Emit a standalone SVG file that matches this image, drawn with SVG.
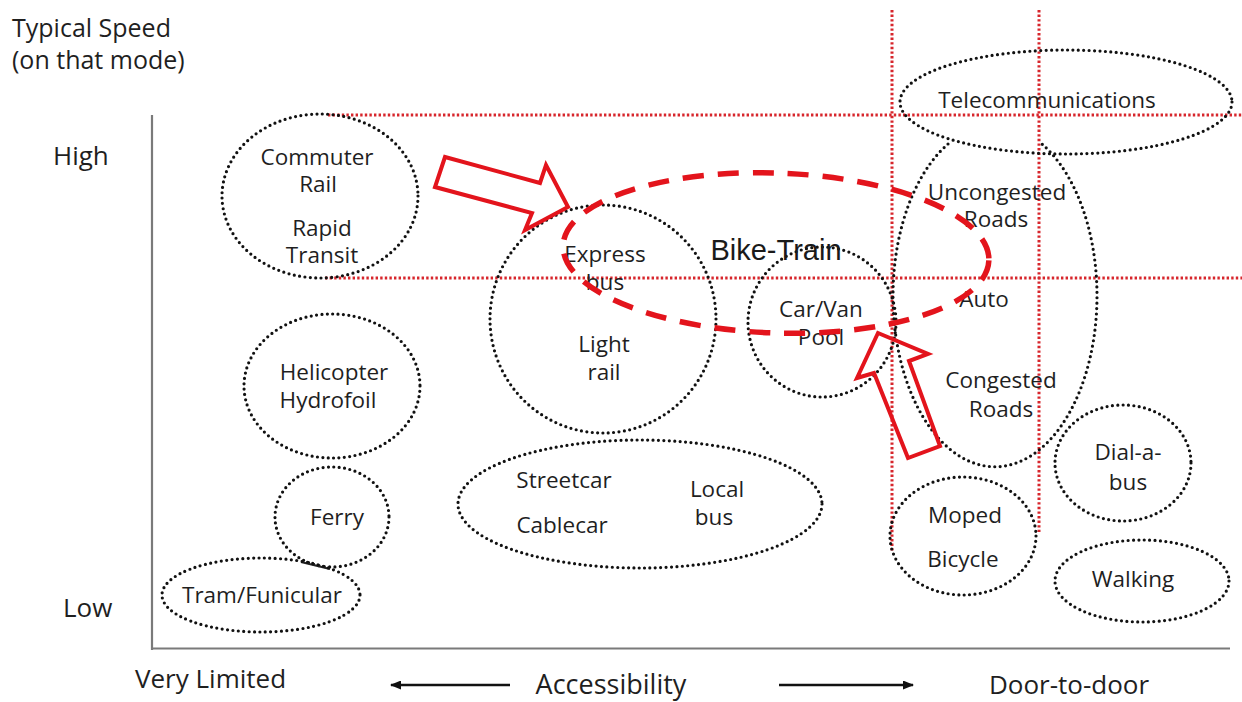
<svg xmlns="http://www.w3.org/2000/svg" width="1242" height="702" viewBox="0 0 1242 702">
<style>
  text { font-family: "Open Sans", "Noto Sans", "Liberation Sans", sans-serif; fill: #1f1f1f; }
  .lbl { font-size: 22.5px; text-anchor: middle; }
  .ax { font-size: 26px; }
  .dot { fill: none; stroke: #111; stroke-width: 3.2; stroke-linecap: round; stroke-dasharray: 0 5.4; }
  .grid { stroke: #d7262c; stroke-width: 3; stroke-dasharray: 2.4 2.2; fill: none; }
  .axis { stroke: #7a7a7a; stroke-width: 2.2; fill: none; }
  .block { fill: none; stroke: #e3141c; stroke-width: 4; stroke-linejoin: miter; }
  .bt { fill: none; stroke: #e3141c; stroke-width: 5.5; stroke-dasharray: 21 14; }
  .arr { stroke: #111; stroke-width: 2.5; fill: none; }
</style>
<defs>
  <marker id="ah" markerWidth="11" markerHeight="9" refX="10" refY="4.5" orient="auto" markerUnits="userSpaceOnUse">
    <path d="M0,0 L11,4.5 L0,9 Z" fill="#111"/>
  </marker>
</defs>
<rect width="1242" height="702" fill="#ffffff"/>

<g id="axes">
  <line class="axis" x1="152" y1="115" x2="152" y2="650"/>
  <line class="axis" x1="151" y1="648.5" x2="1230" y2="648.5"/>
  <text class="ax" x="12" y="37" style="font-size:25px">Typical Speed</text>
  <text class="ax" x="12" y="69" style="font-size:25px">(on that mode)</text>
  <text class="ax" x="53" y="165">High</text>
  <text class="ax" x="63" y="617">Low</text>
  <text class="ax" x="135" y="688">Very Limited</text>
  <text class="ax" x="611" y="694" text-anchor="middle" style="font-size:27px">Accessibility</text>
  <text class="ax" x="1069" y="694" text-anchor="middle">Door-to-door</text>
</g>

<g id="grid">
  <line class="grid" x1="328" y1="115" x2="1242" y2="115"/>
  <line class="grid" x1="325" y1="278" x2="1242" y2="278"/>
  <line class="grid" x1="892" y1="10" x2="892" y2="551"/>
  <line class="grid" x1="1039" y1="10" x2="1039" y2="532"/>
</g>

<g id="commuter">
  <ellipse class="dot" cx="320" cy="196" rx="98" ry="82"/>
  <text class="lbl" x="317" y="165">Commuter</text>
  <text class="lbl" x="318" y="192">Rail</text>
  <text class="lbl" x="322" y="236">Rapid</text>
  <text class="lbl" x="322" y="263">Transit</text>
</g>

<g id="express">
  <ellipse class="dot" cx="603" cy="319" rx="113" ry="114"/>
  <text class="lbl" x="605" y="262">Express</text>
  <text class="lbl" x="605" y="290">bus</text>
  <text class="lbl" x="604" y="352">Light</text>
  <text class="lbl" x="604" y="380">rail</text>
</g>

<g id="carpool">
  <ellipse class="dot" cx="822" cy="322" rx="74" ry="75"/>
  <text class="lbl" x="821" y="317">Car/Van</text>
  <text class="lbl" x="821" y="345">Pool</text>
</g>

<g id="telecom">
  <ellipse class="dot" cx="1066" cy="102" rx="166" ry="52"/>
  <text class="lbl" x="1047" y="108">Telecommunications</text>
</g>

<g id="auto">
  <path class="dot" d="M948,144 A102,171 0 1 0 1042,144"/>
  <text class="lbl" x="997" y="200">Uncongested</text>
  <text class="lbl" x="996" y="227">Roads</text>
  <text class="lbl" x="984" y="307">Auto</text>
  <text class="lbl" x="1001" y="388">Congested</text>
  <text class="lbl" x="1001" y="417">Roads</text>
</g>

<g id="helicopter">
  <ellipse class="dot" cx="332" cy="386" rx="88" ry="72"/>
  <text class="lbl" x="334" y="380">Helicopter</text>
  <text class="lbl" x="328" y="408">Hydrofoil</text>
</g>

<g id="ferry">
  <ellipse class="dot" cx="332" cy="517" rx="57" ry="50"/>
  <text class="lbl" x="337" y="525">Ferry</text>
  <line x1="301" y1="562" x2="330" y2="569" stroke="#222" stroke-width="2"/>
</g>

<g id="tram">
  <ellipse class="dot" cx="261" cy="595" rx="99" ry="37"/>
  <text class="lbl" x="262" y="603">Tram/Funicular</text>
</g>

<g id="streetcar">
  <ellipse class="dot" cx="640" cy="504" rx="182" ry="64"/>
  <text class="lbl" x="564" y="488">Streetcar</text>
  <text class="lbl" x="562" y="533">Cablecar</text>
  <text class="lbl" x="717" y="497">Local</text>
  <text class="lbl" x="714" y="525">bus</text>
</g>

<g id="moped">
  <ellipse class="dot" cx="963" cy="536" rx="73" ry="59"/>
  <text class="lbl" x="965" y="523">Moped</text>
  <text class="lbl" x="963" y="567">Bicycle</text>
</g>

<g id="dialabus">
  <ellipse class="dot" cx="1123" cy="463" rx="68" ry="58"/>
  <text class="lbl" x="1128" y="460">Dial-a-</text>
  <text class="lbl" x="1128" y="490">bus</text>
</g>

<g id="walking">
  <ellipse class="dot" cx="1142" cy="581" rx="87" ry="41"/>
  <text class="lbl" x="1133" y="587">Walking</text>
</g>

<g id="biketrain">
  <ellipse class="bt" cx="776" cy="253" rx="213" ry="80" transform="rotate(2 776 253)"/>
  <text x="776" y="260" text-anchor="middle" style="font-family:'Liberation Sans', Arial, sans-serif; font-size:29px; fill:#1a1a1a;">Bike-Train</text>
</g>

<g id="connectors">
  <polygon class="block" points="445,157 540,183 546,165 568,207 525,230 532,213 435,187"/>
  <polygon class="block" points="878,333 928,354 909,361 940,446 908,458 874,373 857,378"/>
  <line class="arr" x1="510" y1="685" x2="391" y2="685" marker-end="url(#ah)"/>
  <line class="arr" x1="779" y1="685" x2="913" y2="685" marker-end="url(#ah)"/>
</g>
</svg>
